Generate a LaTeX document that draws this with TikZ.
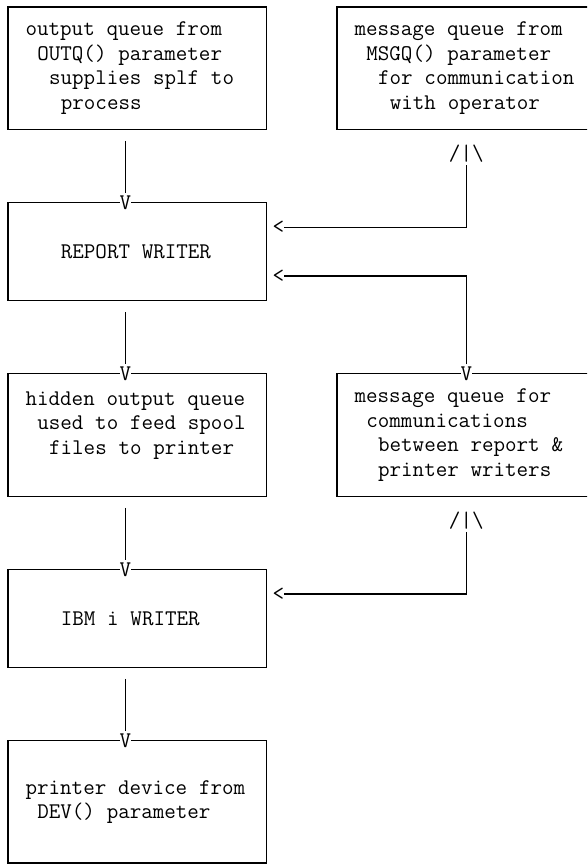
\documentclass[tikz,border=0pt]{standalone}
\newcommand\DiagFont{\ttfamily\fontsize{16.79}{18.343}\selectfont\spaceskip=8.8125pt\relax}
\begin{document}
\begin{tikzpicture}[x=8.8125pt, y=-18.343pt]
\useasboundingbox (-0.681,-0.286) rectangle (49.277,35.08);
\clip (-0.681,-0.286) rectangle (49.277,35.08);

\coordinate (Q1) at (11, 2.5);
\coordinate (Q2) at (39, 2.5);
\coordinate (W1) at (11, 10);
\coordinate (Q3) at (11, 17.5);
\coordinate (Q4) at (39, 17.5);
\coordinate (W2) at (11, 25);
\coordinate (D1) at (11, 32.5);


\tikzset{BoxStyle/.style = {
 font = \DiagFont,
 draw,
 line width = 0.9pt,
 align = flush left,
 text width = 185.06pt,
 inner xsep = 4.406pt,
 inner ysep = 0pt,
 minimum height = #1*18.343pt} }

\node[BoxStyle=5] (OUTQ) at (Q1) {~output queue from\\~~OUTQ() parameter\\~~~supplies splf to\\~~~~process};
\node[BoxStyle=5] (MSGQ) at (Q2) {~message queue from\\~~MSGQ() parameter\\~~~for communication\\~~~~with operator};
\node[BoxStyle=4] (RPTW) at (W1) {~~~~REPORT WRITER};
\node[BoxStyle=5] (HOUTQ) at (Q3) {~hidden output queue\\~~used to feed spool\\~~~files to printer\\~};
\node[BoxStyle=5] (MSGQ2) at (Q4) {~message queue for\\~~communications\\~~~between report \&\\~~~printer writers};
\node[BoxStyle=4] (PRTW) at (W2) {~~~~IBM i WRITER};
\node[BoxStyle=5] (DEV) at (D1) {~printer device from\\~~DEV() parameter};


\tikzset{TipStyle/.style = {
 font = \DiagFont,
 inner sep = 0pt,
 outer sep = 2pt,
 fill = white} }

\node[TipStyle] (T1) at (10, 8) {V};
\node[TipStyle] (T2) at (10, 15) {V};
\node[TipStyle] (T3) at (10, 23) {V};
\node[TipStyle] (T4) at (10, 30) {V};
\node[TipStyle] (T5) at (39, 15) {V};
\node[TipStyle, outer sep=0pt] (L1) at (23, 9) {<};
\node[TipStyle, outer sep=0pt] (L2) at (23, 11) {<};
\node[TipStyle, outer sep=0pt] (L3) at (23, 24) {<};
\node[TipStyle] (U1) at (39, 6) {/|\textbackslash};
\node[TipStyle] (U2) at (39, 21) {/|\textbackslash};


\tikzset{LineStyle/.style = {line width = 0.9pt} }

\draw[LineStyle, shorten <=8.25pt] (OUTQ.south -| T1) -- (T1);
\draw[LineStyle, shorten <=8.25pt] (RPTW.south -| T2) -- (T2);
\draw[LineStyle, shorten <=8.25pt] (HOUTQ.south -| T3) -- (T3);
\draw[LineStyle, shorten <=8.25pt] (PRTW.south -| T4) -- (T4);
\draw[LineStyle] (U1) |- (L1);
\draw[LineStyle] (T5) |- (L2);
\draw[LineStyle] (U2) |- (L3);

\end{tikzpicture}
\end{document}
